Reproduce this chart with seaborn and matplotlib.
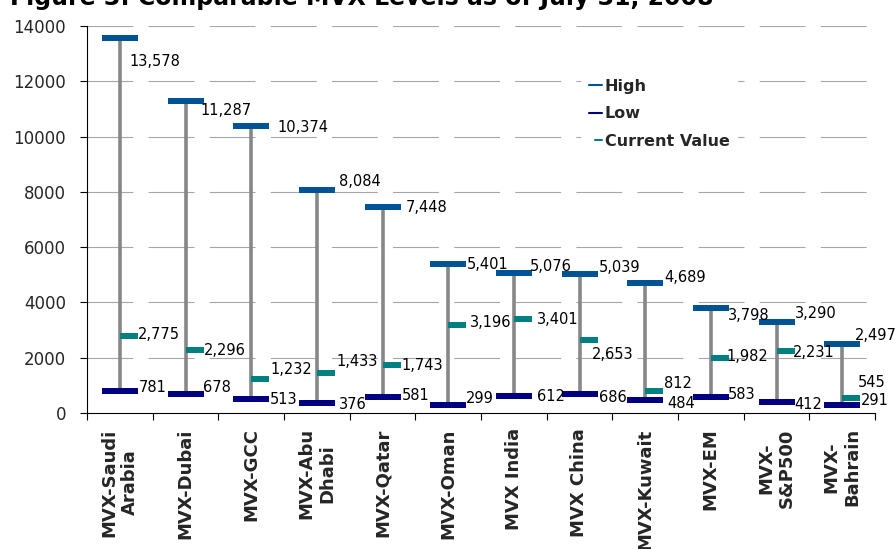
import numpy as np
import pandas as pd
import seaborn as sns
import matplotlib
matplotlib.use("Agg")
import matplotlib.pyplot as plt
from matplotlib.path import Path
from matplotlib.lines import Line2D

# ---------------- data ----------------
categories = ["MVX-Saudi\nArabia", "MVX-Dubai", "MVX-GCC", "MVX-Abu\nDhabi",
              "MVX-Qatar", "MVX-Oman", "MVX India", "MVX China", "MVX-Kuwait",
              "MVX-EM", "MVX-\nS&P500", "MVX-\nBahrain"]
high = [13578, 11287, 10374, 8084, 7448, 5401, 5076, 5039, 4689, 3798, 3290, 2497]
low = [781, 678, 513, 376, 581, 299, 612, 686, 484, 583, 412, 291]
current = [2775, 2296, 1232, 1433, 1743, 3196, 3401, 2653, 812, 1982, 2231, 545]
yticks = [0, 2000, 4000, 6000, 8000, 10000, 12000, 14000]
title = "Figure 3: Comparable MVX Levels as of July 31, 2008"

# label nudges (pixels: dx right, dy down) to mimic the original label placement
high_dx = [-8, -3, 8, 4, 5, 1, -2, 1, 1, -1, 0, -5]
high_dy = [23, 9, 0, -9, 0, 0, -7, -7, -7, 7, -9, -9]
low_dx = [1, 0, 1, 4, 1, 0, 5, 2, 4, -1, 0, 1]
low_dy = [-5, -8, 0, 1, -2, -7, 0, 3, 3, -3, 2, -5]
cur_dx = [0, 0, 1, 2, 1, 4, 5, -6, 1, -2, -2, -2]
cur_dy = [-3, 0, -10, -13, 0, -3, 0, 14, -8, -3, 0, -16]

df = pd.DataFrame({"cat": categories, "high": high, "low": low, "current": current})
df["x"] = np.arange(len(df))

# ---------------- style ----------------
sns.set_theme(style="white")
plt.rcParams["font.family"] = ["DejaVu Sans"]

C_HIGH = "#005496"
C_LOW = "#000080"
C_CUR = "#008080"
C_STEM = "#878787"

W, H = 896, 549
fig = plt.figure(figsize=(W / 100, H / 100), dpi=100)
ax = fig.add_axes([87 / W, 1 - 413 / H, (875 - 87) / W, (413 - 26) / H])
ax.set_xlim(-0.5, len(categories) - 0.5)
ax.set_ylim(0, 14000)

hh = 0.194
full_bar = Path([(-1, -hh), (1, -hh), (1, hh), (-1, hh), (-1, -hh)],
                [Path.MOVETO, Path.LINETO, Path.LINETO, Path.LINETO, Path.CLOSEPOLY])
half_bar = Path([(0, -hh), (1, -hh), (1, hh), (0, hh), (0, -hh)],
                [Path.MOVETO, Path.LINETO, Path.LINETO, Path.LINETO, Path.CLOSEPOLY])
msize = (36 * 0.72) ** 2

# dashed horizontal gridlines (dash ~46px, gap ~15px)
grid_lw = 0.8
for t in yticks[1:]:
    gl, = ax.plot([-0.5, len(categories) - 0.5], [t, t], color="#a6a6a6",
                  linewidth=grid_lw, linestyle="--", zorder=1)
    gl.set_dashes([33 / grid_lw, 11 / grid_lw])

ax.vlines(df["x"], df["low"], df["high"], color=C_STEM, linewidth=2.6, zorder=2)
sns.scatterplot(data=df, x="x", y="high", marker=full_bar, s=msize, color=C_HIGH,
                linewidth=0, ax=ax, zorder=3, legend=False)
sns.scatterplot(data=df, x="x", y="low", marker=full_bar, s=msize, color=C_LOW,
                linewidth=0, ax=ax, zorder=3, legend=False)
sns.scatterplot(data=df, x="x", y="current", marker=half_bar, s=msize, color=C_CUR,
                linewidth=0, ax=ax, zorder=3, legend=False)

# value labels
fs_lab = 10.5
asc = 0.364 * fs_lab
def put(vals, dxs, dys):
    for i, v in enumerate(vals):
        ax.annotate(f"{v:,}", xy=(i, v),
                    xytext=((18 + dxs[i]) * 0.72, -dys[i] * 0.72 - asc),
                    textcoords="offset points", ha="left", va="baseline",
                    fontsize=fs_lab, color="black", zorder=4)
put(high, high_dx, high_dy)
put(low, low_dx, low_dy)
put(current, cur_dx, cur_dy)

# axes
ax.set_xlim(-0.5, len(categories) - 0.5)
ax.set_ylim(0, 14000)
ax.set_yticks(yticks)
ax.set_yticklabels([str(t) for t in yticks], fontsize=12)
ax.set_xticks(df["x"])
ax.set_xticklabels(categories, rotation=90, fontsize=13, fontweight="bold",
                   ha="center", va="top", multialignment="center")
ax.set_xticks(np.arange(-0.5, len(categories)), minor=True)
ax.tick_params(axis="x", which="major", length=0, pad=11)
ax.tick_params(axis="x", which="minor", length=5, width=0.8, color="black",
               direction="out", bottom=True)
ax.tick_params(axis="y", which="major", length=5, width=0.8, color="black",
               direction="out", left=True, pad=10)
ax.set_xlabel("")
ax.set_ylabel("")
for s in ["top", "right"]:
    ax.spines[s].set_visible(False)
for s in ["left", "bottom"]:
    ax.spines[s].set_color("black")
    ax.spines[s].set_linewidth(0.8)
    ax.spines[s].set_zorder(5)
ax.set_facecolor("white")

# legend
handles = [Line2D([], [], color=C_HIGH, linewidth=1.5),
           Line2D([], [], color=C_LOW, linewidth=1.5),
           Line2D([], [], color=C_CUR, linewidth=1.5)]
leg = ax.legend(handles, ["High", "Low", "Current Value"], loc="upper left",
                bbox_to_anchor=(581 / W, 1 - 71 / H), bbox_transform=fig.transFigure,
                borderaxespad=0, borderpad=0.5, handlelength=0.8, handletextpad=0.2,
                labelspacing=0.78, frameon=True, facecolor="white", edgecolor="none",
                framealpha=1, fancybox=False, prop={"weight": "bold", "size": 11.5})
cur_line = leg.get_lines()[2]
xd = np.asarray(cur_line.get_xdata(), dtype=float)
yd = np.asarray(cur_line.get_ydata(), dtype=float)
cur_line.set_data([xd[0] + (xd[-1] - xd[0]) * 0.5, xd[-1]], [yd[0], yd[-1]])

# title (clipped at the top like the original)
fig.text(10 / W, 1 - 4.5 / H, title, ha="left", va="baseline", fontsize=17,
         fontweight="bold", color="black")

fig.savefig("out.png", dpi=100)
